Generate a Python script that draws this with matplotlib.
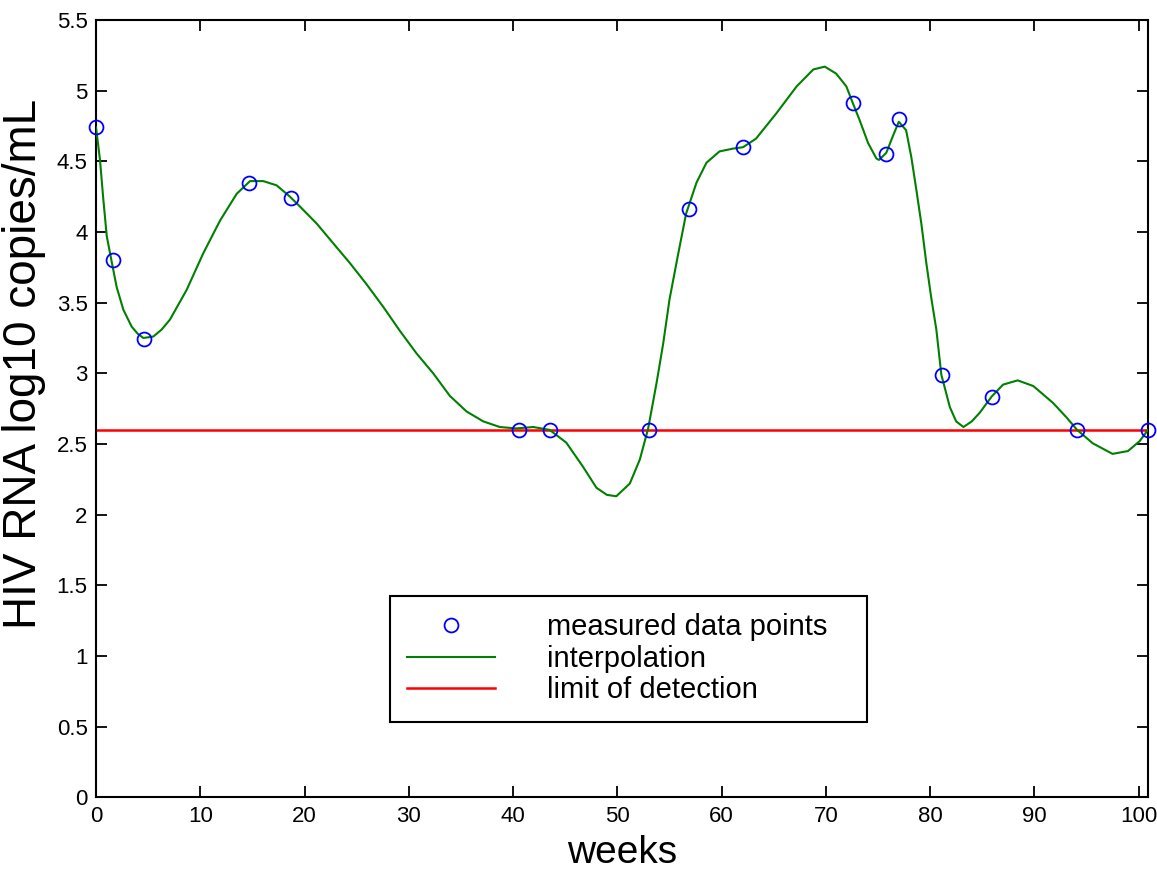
import matplotlib
matplotlib.use("Agg")
import matplotlib.pyplot as plt

plt.rcParams['font.family'] = ['Liberation Sans', 'DejaVu Sans']

# measured viral load (weeks, log10 copies/mL)
meas_weeks = [0, 1.66, 4.63, 14.7, 18.7, 40.6, 43.5, 53.0, 56.9, 62.06,
              72.6, 75.8, 77.0, 81.1, 85.9, 94.1, 100.9]
meas_load = [4.74, 3.80, 3.24, 4.35, 4.24, 2.60, 2.60, 2.60, 4.16, 4.60,
             4.91, 4.55, 4.80, 2.99, 2.835, 2.60, 2.60]

# interpolation curve
curve_weeks = [0.0, 0.38, 0.70, 1.03, 1.50, 1.98, 2.62, 3.42, 4.0, 4.54, 5.49,
               6.3, 7.09, 8.69, 10.29, 11.89, 13.49, 14.77, 16.04, 17.32, 18.6,
               19.56, 21.16, 22.75, 24.35, 25.95, 27.55, 29.15, 30.75,
               32.34, 33.94, 35.54, 37.14, 38.73, 40.3, 41.93, 43.5, 45.1,
               46.7, 48.0, 49.0, 49.9, 51.2, 52.16, 52.96, 53.76, 54.4,
               55.0, 55.8, 56.6, 57.6, 58.55, 59.8, 61.1, 62.06, 63.3,
               65.26, 67.2, 68.8, 69.9, 71.0, 71.97, 72.6, 73.25, 74.05,
               74.85, 75.1, 75.8, 76.44, 77.0, 77.7, 78.2, 78.68, 79.16,
               79.64, 80.1, 80.6, 81.08, 81.9, 82.5, 83.2, 84.0, 84.75,
               85.9, 87.0, 88.4, 89.9, 91.8, 93.06, 94.1, 95.6, 97.5,
               98.98, 100.1, 100.9]
curve_load = [4.74, 4.51, 4.23, 3.97, 3.79, 3.61, 3.45, 3.33, 3.28, 3.25, 3.26,
              3.31, 3.38, 3.59, 3.85, 4.08, 4.27, 4.36, 4.36, 4.33, 4.25,
              4.18, 4.06, 3.92, 3.78, 3.63, 3.47, 3.30, 3.14,
              3.00, 2.84, 2.73, 2.66, 2.62, 2.61, 2.62, 2.60, 2.51,
              2.34, 2.19, 2.14, 2.13, 2.22, 2.39, 2.61, 2.93, 3.21,
              3.52, 3.83, 4.13, 4.35, 4.49, 4.57, 4.59, 4.60, 4.66,
              4.84, 5.03, 5.15, 5.17, 5.12, 5.03, 4.91, 4.79, 4.63,
              4.52, 4.51, 4.56, 4.68, 4.78, 4.72, 4.53, 4.30, 4.06,
              3.78, 3.54, 3.31, 2.99, 2.76, 2.66, 2.62, 2.66, 2.72,
              2.835, 2.92, 2.95, 2.91, 2.79, 2.69, 2.60, 2.505, 2.43,
              2.45, 2.52, 2.60]

detection_limit = 2.6

xticks = [0, 10, 20, 30, 40, 50, 60, 70, 80, 90, 100]
xtick_labels = ['0', '10', '20', '30', '40', '50', '60', '70', '80', '90', '100']
yticks = [0, 0.5, 1, 1.5, 2, 2.5, 3, 3.5, 4, 4.5, 5, 5.5]
ytick_labels = ['0', '0.5', '1', '1.5', '2', '2.5', '3', '3.5', '4', '4.5', '5', '5.5']

fig = plt.figure(figsize=(11.57, 8.69), dpi=100)
ax = fig.add_axes([0.083, 0.0825, 0.9092, 0.8945])

ax.plot(meas_weeks, meas_load, linestyle='none', marker='o', markersize=10,
        markerfacecolor='none', markeredgecolor='#0000ff', markeredgewidth=1.3,
        clip_on=False, zorder=4, label='measured data points')
ax.plot(curve_weeks, curve_load, color='#008000', linewidth=1.5,
        zorder=3, label='interpolation')
ax.axhline(detection_limit, color='#ff0000', linewidth=1.8, zorder=2,
           label='limit of detection')

ax.set_xlim(0, 100.9)
ax.set_ylim(0, 5.5)
ax.set_xticks(xticks)
ax.set_xticklabels(xtick_labels)
ax.set_yticks(yticks)
ax.set_yticklabels(ytick_labels)
ax.tick_params(direction='in', length=8, width=1.3, top=True, right=True,
               labelsize=16, pad=6)
for sp in ax.spines.values():
    sp.set_linewidth(1.5)

ax.set_xlabel('weeks', fontsize=28, labelpad=6)
ax.set_ylabel('HIV RNA log10 copies/mL', fontsize=33)
ax.yaxis.set_label_coords(-0.048, 0.557)

leg = ax.legend(loc='lower left', bbox_to_anchor=(0.279, 0.097, 0.454, 0.166),
                mode='expand', borderaxespad=0, fontsize=21, numpoints=1,
                handlelength=3.0, handletextpad=1.8, labelspacing=0.12,
                borderpad=0.6, fancybox=False, framealpha=1)
leg.get_frame().set_edgecolor('black')
leg.get_frame().set_linewidth(1.5)

fig.savefig('out.png', dpi=100)
